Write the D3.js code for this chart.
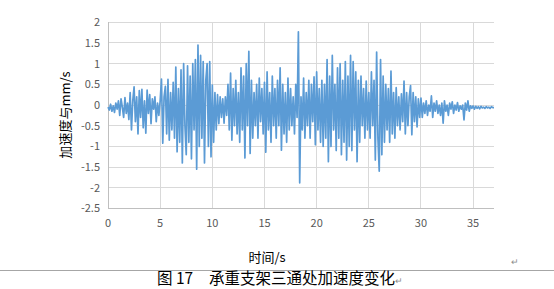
<!DOCTYPE html>
<html><head><meta charset="utf-8">
<script src="https://cdn.jsdelivr.net/npm/d3@7/dist/d3.min.js"></script>
<style>body{margin:0;background:#fff}svg{display:block}</style>
</head><body>
<svg id="c" width="554" height="289"></svg>
<script>
// time step of samples (s)
const timeStep = 0.125;
// acceleration samples (mm/s²), one row per second
const accel = [
 -0.05,-0.12,0.02,-0.15,-0.02,-0.18,0.05,-0.10,
 0.10,-0.25,0.15,-0.05,-0.30,0.18,-0.20,0.05,
 -0.35,0.30,-0.60,0.10,0.44,-0.40,0.20,-0.70,
 0.35,-0.30,0.38,-0.55,0.10,-0.68,0.36,-0.20,
 0.25,-0.45,0.15,-0.10,0.20,-0.40,0.05,-0.25,
 0.10,0.63,-0.92,0.20,0.45,-0.70,0.62,-0.85,
 0.30,-0.60,0.55,-0.80,0.92,-1.13,0.40,-0.90,
 0.85,-1.40,1.00,-0.50,-1.20,0.95,-0.90,0.70,
 -1.30,1.00,-0.60,1.10,-1.55,1.45,-1.00,1.20,
 -0.80,1.05,-1.40,0.60,1.00,-1.00,1.05,-1.25,
 0.48,-0.90,0.30,-0.60,0.25,-0.45,0.20,-0.30,
 0.15,-0.44,0.20,-0.25,0.50,-0.60,0.77,-0.85,
 0.40,-0.50,0.60,-0.70,0.30,-0.90,0.90,-0.60,
 0.70,-1.28,1.00,-0.50,1.30,-1.17,0.60,-0.80,
 0.30,-0.50,0.50,-0.80,0.65,-0.40,0.40,-0.70,
 0.55,-1.14,0.80,-0.60,0.30,-0.90,0.70,-0.50,
 0.40,-0.80,0.60,-0.50,0.90,-1.09,0.50,-0.70,
 0.30,-0.90,0.65,-0.60,0.40,-0.50,0.20,-0.70,
 0.50,-0.30,1.77,-1.88,0.20,-0.60,0.65,-0.80,
 0.30,-0.50,0.60,-0.80,0.50,-0.40,0.68,-0.96,
 0.80,-0.60,0.40,-0.90,0.60,-1.00,0.50,-0.80,
 1.10,-1.37,0.70,-1.00,1.20,-0.60,0.50,-1.10,
 0.90,-0.80,1.00,-1.20,0.60,-0.90,1.05,-1.33,
 0.70,-1.00,1.20,-1.10,1.05,-0.60,0.80,-1.37,
 0.60,-0.90,0.70,-0.50,0.40,-0.80,0.58,-0.60,
 0.30,-0.80,0.80,-0.50,0.60,-1.33,1.28,-0.80,
 -1.60,1.10,-1.20,0.70,-0.90,0.50,-0.60,0.40,
 -0.90,0.82,-0.70,0.30,-0.80,0.42,-0.50,0.20,
 -0.60,0.27,-0.40,0.58,-0.70,0.30,-0.50,0.20,
 0.47,-0.72,0.30,-0.40,0.20,-0.53,0.15,-0.30,
 0.17,-0.30,0.05,-0.20,0.10,-0.25,0.00,-0.15,
 0.22,-0.30,0.05,-0.15,0.10,-0.20,0.00,-0.25,
 0.05,-0.44,0.10,-0.15,0.00,-0.25,0.05,-0.10,
 0.08,-0.20,0.00,-0.12,0.06,-0.15,-0.02,-0.10,
 0.00,-0.36,0.05,-0.12,0.10,-0.15,-0.02,-0.08,
 -0.02,-0.10,-0.03,-0.08,-0.04,-0.09,-0.03,-0.07,
 -0.05,-0.08,-0.04,-0.07,-0.05,-0.08,-0.04,-0.06,
 -0.06
];
const xTicks = [0,5,10,15,20,25,30,35];
const yTicks = [-2.5,-2,-1.5,-1,-0.5,0,0.5,1,1.5,2];
const xTitle = "时间/s";
const yTitle = "加速度与mm/s";
const captionParts = ["图", "17", "承重支架三通处加速度变化"];

const svg = d3.select("#c");
const x = d3.scaleLinear().domain([0,37]).range([108,494]);
const y = d3.scaleLinear().domain([-2.5,2]).range([208.5,22.3]);
const font = "'Noto Sans CJK SC','Noto Sans',sans-serif";

// gridlines
svg.append("g").selectAll("line").data(yTicks).join("line")
  .attr("x1",x(0)).attr("x2",x(37)).attr("y1",d=>y(d)).attr("y2",d=>y(d))
  .attr("stroke","#d9d9d9").attr("stroke-width",1).attr("shape-rendering","crispEdges");
svg.append("g").selectAll("line").data(xTicks).join("line")
  .attr("x1",d=>x(d)).attr("x2",d=>x(d)).attr("y1",y(2)).attr("y2",y(-2.5))
  .attr("stroke","#d9d9d9").attr("stroke-width",1).attr("shape-rendering","crispEdges");
// axes lines
svg.append("line").attr("x1",x(0)).attr("x2",x(0)).attr("y1",y(2)).attr("y2",y(-2.5))
  .attr("stroke","#bfbfbf").attr("shape-rendering","crispEdges");
svg.append("line").attr("x1",x(0)).attr("x2",x(37)).attr("y1",y(-2.5)).attr("y2",y(-2.5))
  .attr("stroke","#bfbfbf").attr("shape-rendering","crispEdges");

// tick labels
svg.append("g").selectAll("text").data(yTicks).join("text")
  .attr("x",100).attr("y",d=>y(d)).attr("dy","0.35em").attr("text-anchor","end")
  .attr("font-family",font).attr("font-size",11).attr("fill","#595959").text(d=>d);
svg.append("g").selectAll("text").data(xTicks).join("text")
  .attr("x",d=>x(d)).attr("y",223).attr("dy","0.35em").attr("text-anchor","middle")
  .attr("font-family",font).attr("font-size",11).attr("fill","#595959").text(d=>d);

// data line
const line = d3.line().x((d,i)=>x(i*timeStep)).y(d=>y(d));
svg.append("path").datum(accel).attr("d",line).attr("fill","none")
  .attr("stroke","#5b9bd5").attr("stroke-width",1.7).attr("stroke-linejoin","round");

// axis titles
svg.append("text").attr("x",267).attr("y",257).attr("dy","0.35em").attr("text-anchor","middle")
  .attr("font-family",font).attr("font-size",13).attr("fill","#000").text(xTitle);
svg.append("text").attr("transform","translate(65,115) rotate(-90)").attr("dy","0.35em")
  .attr("text-anchor","middle").attr("font-family",font).attr("font-size",13).attr("fill","#000").text(yTitle);

// paragraph marks / rule / caption
svg.append("text").attr("x",515).attr("y",262).attr("dy","0.35em").attr("text-anchor","middle")
  .attr("font-family",font).attr("font-size",9).attr("fill","#8c8c8c").text("↵");
svg.append("line").attr("x1",0).attr("x2",554).attr("y1",270.5).attr("y2",270.5)
  .attr("stroke","#a6a6a6").attr("stroke-width",1);
const capX = [157, 176, 209];
const cap = svg.append("text").attr("y",279).attr("dy","0.35em")
  .attr("font-family",font).attr("font-size",15.5).attr("fill","#000");
captionParts.forEach((t,i)=>cap.append("tspan").attr("x",capX[i]).text(t));
cap.append("tspan").attr("font-size",9).attr("fill","#8c8c8c").text("↵");
</script>
</body></html>
